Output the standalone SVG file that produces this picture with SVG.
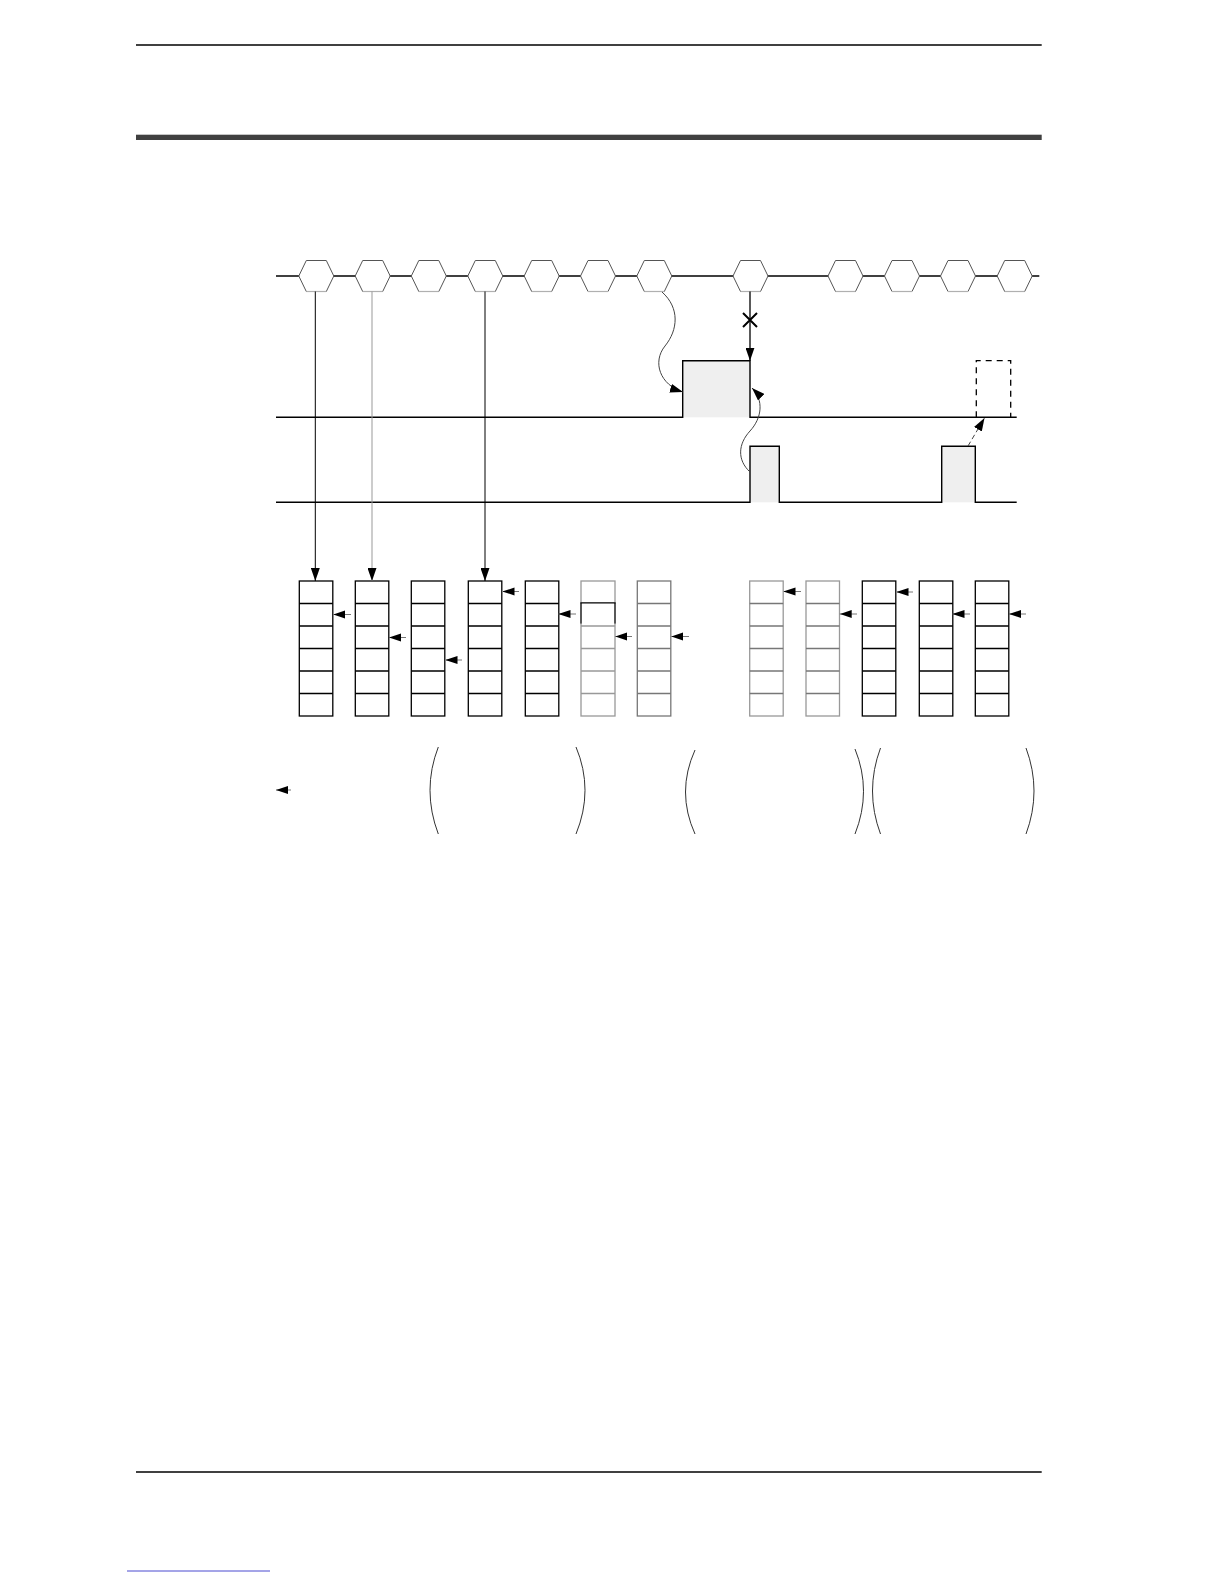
<svg xmlns="http://www.w3.org/2000/svg" width="1224" height="1584" viewBox="0 0 1224 1584">
<style>
.hex{fill:#fff;stroke:#555;stroke-width:1}
.hexb{stroke:#b0b0b0;stroke-width:1.2;fill:none}
.ln{stroke:#000;stroke-width:1.4;fill:none}
.reg{fill:#fff;stroke:#000;stroke-width:1.3}
.regg{fill:#fff;stroke:#999;stroke-width:1.3}
.regm{fill:#fff;stroke:#777;stroke-width:1.3}
.ptr{stroke:#777;stroke-width:1;fill:none}
.par{stroke:#333;stroke-width:1;fill:none}
.thin{stroke:#444;stroke-width:1;fill:none}
</style>
<defs>
<marker id="ah" markerUnits="userSpaceOnUse" markerWidth="13" markerHeight="9" refX="13" refY="4.5" orient="auto">
<path d="M0,0 L13,4.5 L0,9 z" fill="#000"/>
</marker>
<marker id="ahs" markerUnits="userSpaceOnUse" markerWidth="12" markerHeight="9" refX="12" refY="4.5" orient="auto">
<path d="M0,0.5 L12,4.5 L0,8.5 z" fill="#000"/>
</marker>
<symbol id="hx" overflow="visible">
<polygon class="hex" points="-17.5,0 -10,-15.5 10,-15.5 17.5,0 10,15.5 -10,15.5"/>
<line class="hexb" x1="-10" y1="15.5" x2="10" y2="15.5"/>
</symbol>
</defs>
<rect width="1224" height="1584" fill="#fff"/>

<g id="page-frame">
<line x1="136" y1="45" x2="1041.7" y2="45" stroke="#000" stroke-width="1.6"/>
<rect x="136" y="134.7" width="905.7" height="5.3" fill="#404040"/>
<line x1="136" y1="1472" x2="1041.7" y2="1472" stroke="#000" stroke-width="1.3"/>
<line x1="127" y1="1571" x2="270" y2="1571" stroke="#4a4ad0" stroke-width="1"/>
</g>

<g id="bus-line"><line class="ln" x1="276" y1="276" x2="1039.3" y2="276"/></g>

<g id="hexagons">
<use id="hex1" href="#hx" x="316.3" y="276"/>
<use id="hex2" href="#hx" x="372.7" y="276"/>
<use id="hex3" href="#hx" x="428.8" y="276"/>
<use id="hex4" href="#hx" x="485.3" y="276"/>
<use id="hex5" href="#hx" x="541.7" y="276"/>
<use id="hex6" href="#hx" x="598" y="276"/>
<use id="hex7" href="#hx" x="654.3" y="276"/>
<use id="hex8" href="#hx" x="750.5" y="276"/>
<use id="hex9" href="#hx" x="845.5" y="276"/>
<use id="hex10" href="#hx" x="902" y="276"/>
<use id="hex11" href="#hx" x="958" y="276"/>
<use id="hex12" href="#hx" x="1014.7" y="276"/>
</g>

<g id="signal1">
<rect x="682.7" y="360.7" width="67.3" height="56.6" fill="#efefef"/>
<path class="ln" d="M276,417.3 H682.7 V360.7 H750 V417.3 H1016.7"/>
<path d="M976.3,417.3 V360.7 H1010.7 V417.3" fill="none" stroke="#000" stroke-width="1.3" stroke-dasharray="6,5"/>
</g>

<g id="signal2">
<rect x="750" y="446.3" width="29.3" height="56" fill="#efefef"/>
<rect x="941.7" y="446.3" width="33.6" height="56" fill="#efefef"/>
<path class="ln" d="M276,502.3 H750 V446.3 H779.3 V502.3 H941.7 V446.3 H975.3 V502.3 H1016.7"/>
</g>

<g id="registers">
<g id="reg1"><rect class="reg" x="299.3" y="581" width="33.5" height="135"/><path class="reg" d="M299.3,603.5H332.8M299.3,626H332.8M299.3,648.5H332.8M299.3,671H332.8M299.3,693.5H332.8"/></g>
<g id="reg2"><rect class="reg" x="355.3" y="581" width="33.5" height="135"/><path class="reg" d="M355.3,603.5H388.8M355.3,626H388.8M355.3,648.5H388.8M355.3,671H388.8M355.3,693.5H388.8"/></g>
<g id="reg3"><rect class="reg" x="411.3" y="581" width="33.5" height="135"/><path class="reg" d="M411.3,603.5H444.8M411.3,626H444.8M411.3,648.5H444.8M411.3,671H444.8M411.3,693.5H444.8"/></g>
<g id="reg4"><rect class="reg" x="468.3" y="581" width="33.5" height="135"/><path class="reg" d="M468.3,603.5H501.8M468.3,626H501.8M468.3,648.5H501.8M468.3,671H501.8M468.3,693.5H501.8"/></g>
<g id="reg5"><rect class="reg" x="525.3" y="581" width="33.5" height="135"/><path class="reg" d="M525.3,603.5H558.8M525.3,626H558.8M525.3,648.5H558.8M525.3,671H558.8M525.3,693.5H558.8"/></g>
<g id="reg6"><rect class="regg" x="581" y="581" width="34" height="135"/><path class="regg" d="M581,626H615M581,648.5H615M581,671H615M581,693.5H615"/>
<rect x="579" y="604" width="38" height="20" fill="#fff"/>
<path class="reg" fill="none" d="M581,623.7 V602.8 H615 V623.7"/></g>
<g id="reg7"><rect class="regm" x="637.3" y="581" width="33.5" height="135"/><path class="regm" d="M637.3,603.5H670.8M637.3,626H670.8M637.3,648.5H670.8M637.3,671H670.8M637.3,693.5H670.8"/></g>
<g id="reg8"><rect class="regg" x="749.7" y="581" width="33.5" height="135"/><path class="regm" d="M749.7,603.5H783.2M749.7,626H783.2M749.7,648.5H783.2M749.7,671H783.2M749.7,693.5H783.2"/></g>
<g id="reg9"><rect class="regg" x="806" y="581" width="33.5" height="135"/><path class="regm" d="M806,603.5H839.5M806,626H839.5M806,648.5H839.5M806,671H839.5M806,693.5H839.5"/></g>
<g id="reg10"><rect class="reg" x="862.3" y="581" width="33.5" height="135"/><path class="reg" d="M862.3,603.5H895.8M862.3,626H895.8M862.3,648.5H895.8M862.3,671H895.8M862.3,693.5H895.8"/></g>
<g id="reg11"><rect class="reg" x="919.3" y="581" width="33.5" height="135"/><path class="reg" d="M919.3,603.5H952.8M919.3,626H952.8M919.3,648.5H952.8M919.3,671H952.8M919.3,693.5H952.8"/></g>
<g id="reg12"><rect class="reg" x="975.3" y="581" width="33.5" height="135"/><path class="reg" d="M975.3,603.5H1008.8M975.3,626H1008.8M975.3,648.5H1008.8M975.3,671H1008.8M975.3,693.5H1008.8"/></g>
</g>

<g id="brackets">
<path class="par" d="M438.3,747 Q421.7,790 438.3,834"/>
<path class="par" d="M576,747 Q594,790 576,834"/>
<path class="par" d="M695,750 Q676,792 695,834"/>
<path class="par" d="M855,749 Q872,791 855,834"/>
<path class="par" d="M880.5,748 Q864.5,791 880.5,834"/>
<path class="par" d="M1026,748 Q1042,791 1026,834"/>
</g>

<g id="connectors">
<line x1="315.3" y1="291.5" x2="315.3" y2="581" stroke="#000" stroke-width="1" marker-end="url(#ah)"/>
<line x1="372" y1="291.5" x2="372" y2="581" stroke="#999" stroke-width="1" marker-end="url(#ah)"/>
<line x1="485" y1="291.5" x2="485" y2="581" stroke="#000" stroke-width="1" marker-end="url(#ah)"/>
<line x1="750" y1="291.5" x2="750" y2="360.7" stroke="#000" stroke-width="1.3" marker-end="url(#ah)"/>
<path d="M743,313 L757,327 M757,313 L743,327" stroke="#000" stroke-width="2" fill="none"/>
<path class="thin" d="M662,292 C680,308 678,330 665,346 C652,362 660,385 683,392" marker-end="url(#ah)"/>
<path class="thin" d="M750,472 C737,460 738,444 750,431 C762,418 764,400 752,388" marker-end="url(#ah)"/>
<path class="thin" stroke="#888" stroke-dasharray="5,3" d="M968,446 L984.5,418" marker-end="url(#ah)"/>
<line class="ptr" x1="351" y1="614.5" x2="333.3" y2="614.5" marker-end="url(#ahs)"/>
<line class="ptr" x1="406" y1="637.5" x2="389" y2="637.5" marker-end="url(#ahs)"/>
<line class="ptr" x1="462" y1="660" x2="445.5" y2="660" marker-end="url(#ahs)"/>
<line class="ptr" x1="519" y1="591.5" x2="502.5" y2="591.5" marker-end="url(#ahs)"/>
<line class="ptr" x1="576" y1="614" x2="558.5" y2="614" marker-end="url(#ahs)"/>
<line class="ptr" x1="632" y1="636.5" x2="615.3" y2="636.5" marker-end="url(#ahs)"/>
<line class="ptr" x1="689" y1="636.5" x2="671.3" y2="636.5" marker-end="url(#ahs)"/>
<line class="ptr" x1="801" y1="591.5" x2="783.5" y2="591.5" marker-end="url(#ahs)"/>
<line class="ptr" x1="857" y1="614" x2="839.7" y2="614" marker-end="url(#ahs)"/>
<line class="ptr" x1="913" y1="592" x2="896.5" y2="592" marker-end="url(#ahs)"/>
<line class="ptr" x1="970" y1="614" x2="952.5" y2="614" marker-end="url(#ahs)"/>
<line class="ptr" x1="1026" y1="614" x2="1009" y2="614" marker-end="url(#ahs)"/>
<line class="ptr" x1="291" y1="790" x2="276" y2="790" marker-end="url(#ahs)"/>
</g>
</svg>
